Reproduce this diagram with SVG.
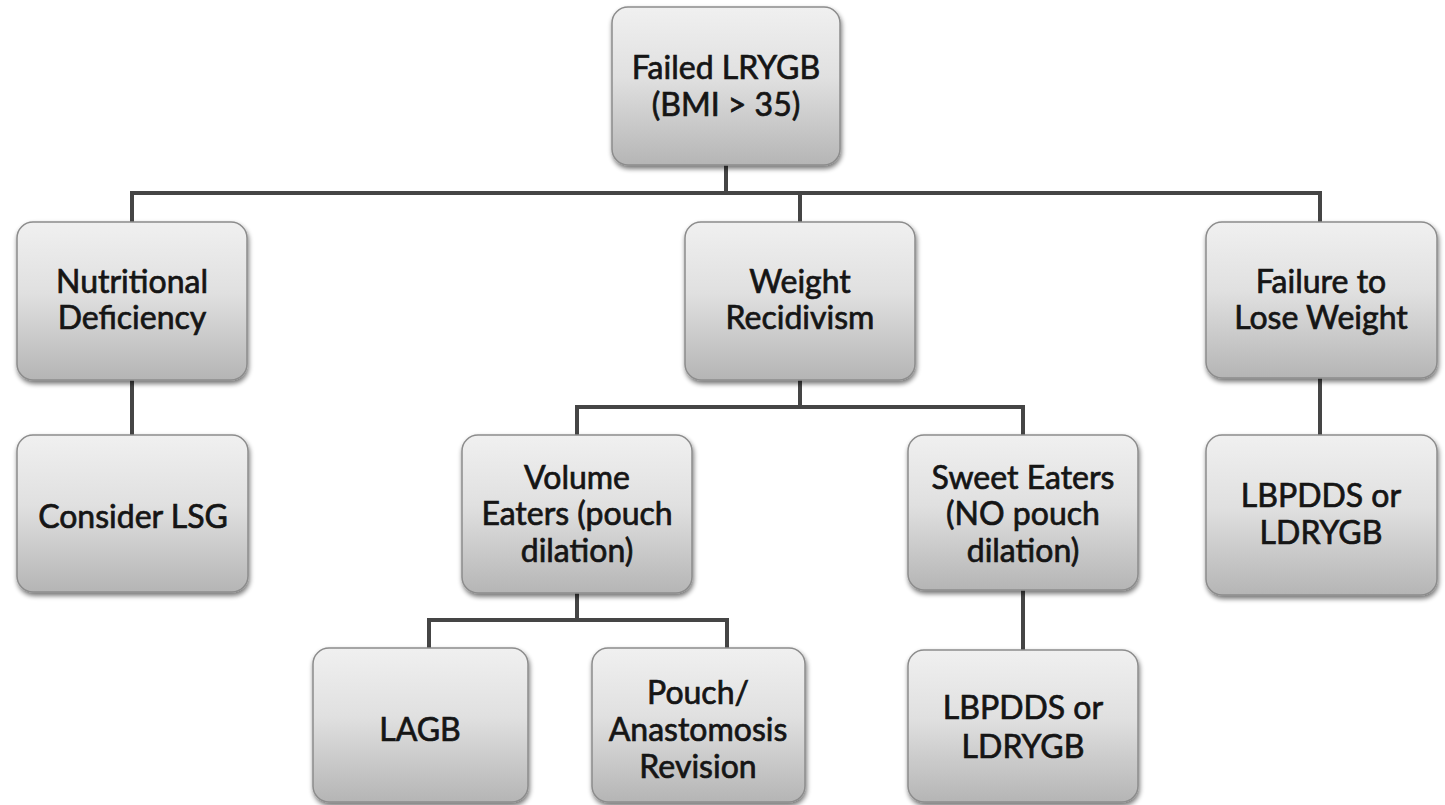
<svg xmlns="http://www.w3.org/2000/svg" width="1445" height="805" viewBox="0 0 1445 805">
  <defs>
    <linearGradient id="boxFill" x1="0" y1="0" x2="0" y2="1">
      <stop offset="0" stop-color="#f0f0f0"/>
      <stop offset="0.45" stop-color="#e0e0e0"/>
      <stop offset="1" stop-color="#b5b5b5"/>
    </linearGradient>
    <filter id="shadow" x="-10%" y="-10%" width="125%" height="125%">
      <feGaussianBlur in="SourceAlpha" stdDeviation="2.5"/>
      <feOffset dx="1" dy="3" result="b"/>
      <feComponentTransfer><feFuncA type="linear" slope="0.55"/></feComponentTransfer>
      <feMerge><feMergeNode/><feMergeNode in="SourceGraphic"/></feMerge>
    </filter>
  </defs>
  <style>
    .box { fill: url(#boxFill); stroke: #8c8c8c; stroke-width: 1.5; filter: url(#shadow); }
    .lbl { font-family: Lato, "Liberation Sans", sans-serif; font-size: 32px; fill: #151515; text-anchor: middle; stroke: #151515; stroke-width: 0.7; }
    .wire { fill: none; stroke: #454545; stroke-width: 4; stroke-linecap: butt; stroke-linejoin: miter; }
  </style>
  <rect width="1445" height="805" fill="#ffffff"/>

  <!-- connectors -->
  <g id="connectors">
    <path class="wire" d="M726 165 V193"/>
    <path class="wire" d="M132 222 V193 H1320 V222"/>
    <path class="wire" d="M800 193 V222"/>
    <path class="wire" d="M132 380 V435"/>
    <path class="wire" d="M1320 378 V435"/>
    <path class="wire" d="M800 380 V407"/>
    <path class="wire" d="M577 435 V407 H1023 V435"/>
    <path class="wire" d="M577 593 V620"/>
    <path class="wire" d="M429 648 V620 H727 V648"/>
    <path class="wire" d="M1023 590 V650"/>
  </g>

  <!-- root -->
  <g id="failed-lrygb">
    <rect class="box" x="612" y="7" width="228" height="158" rx="16"/>
    <text class="lbl" x="726" y="79">Failed LRYGB</text>
    <text class="lbl" x="726" y="116">(BMI &gt; 35)</text>
  </g>

  <!-- second row -->
  <g id="nutritional-deficiency">
    <rect class="box" x="17" y="222" width="230" height="158" rx="16"/>
    <text class="lbl" x="132" y="293">Nutritional</text>
    <text class="lbl" x="132" y="329">Deficiency</text>
  </g>
  <g id="weight-recidivism">
    <rect class="box" x="685" y="222" width="230" height="158" rx="16"/>
    <text class="lbl" x="800" y="293">Weight</text>
    <text class="lbl" x="800" y="329">Recidivism</text>
  </g>
  <g id="failure-to-lose-weight">
    <rect class="box" x="1206" y="222" width="231" height="156" rx="16"/>
    <text class="lbl" x="1321" y="293">Failure to</text>
    <text class="lbl" x="1321" y="329">Lose Weight</text>
  </g>

  <!-- third row -->
  <g id="consider-lsg">
    <rect class="box" x="17" y="435" width="231" height="157" rx="16"/>
    <text class="lbl" x="133" y="528">Consider LSG</text>
  </g>
  <g id="volume-eaters">
    <rect class="box" x="462" y="435" width="230" height="158" rx="16"/>
    <text class="lbl" x="577" y="489">Volume</text>
    <text class="lbl" x="577" y="525">Eaters (pouch</text>
    <text class="lbl" x="577" y="562">dilation)</text>
  </g>
  <g id="sweet-eaters">
    <rect class="box" x="908" y="435" width="230" height="155" rx="16"/>
    <text class="lbl" x="1023" y="489">Sweet Eaters</text>
    <text class="lbl" x="1023" y="525">(NO pouch</text>
    <text class="lbl" x="1023" y="562">dilation)</text>
  </g>
  <g id="lbpdds-right">
    <rect class="box" x="1206" y="435" width="231" height="160" rx="16"/>
    <text class="lbl" x="1321" y="507">LBPDDS or</text>
    <text class="lbl" x="1321" y="544">LDRYGB</text>
  </g>

  <!-- bottom row -->
  <g id="lagb">
    <rect class="box" x="313" y="648" width="215" height="154" rx="16"/>
    <text class="lbl" x="420" y="741">LAGB</text>
  </g>
  <g id="pouch-revision">
    <rect class="box" x="592" y="648" width="213" height="154" rx="16"/>
    <text class="lbl" x="698" y="704">Pouch/</text>
    <text class="lbl" x="698" y="741">Anastomosis</text>
    <text class="lbl" x="698" y="778">Revision</text>
  </g>
  <g id="lbpdds-middle">
    <rect class="box" x="908" y="650" width="230" height="152" rx="16"/>
    <text class="lbl" x="1023" y="719">LBPDDS or</text>
    <text class="lbl" x="1023" y="758">LDRYGB</text>
  </g>
</svg>
